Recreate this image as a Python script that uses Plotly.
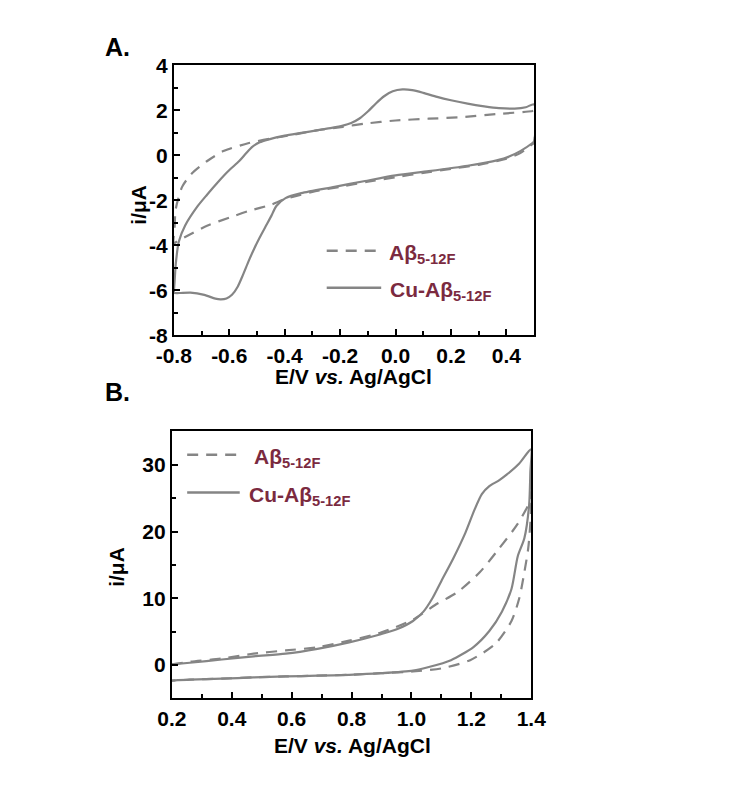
import plotly.graph_objects as go

# ---------------- data ----------------
# Panel A: cyclic voltammograms (E in V vs Ag/AgCl, i in uA)
A_ab_E = [-0.800, -0.797, -0.793, -0.770, -0.736, -0.678, -0.621, -0.529, -0.450, -0.400,
          -0.280, -0.190, -0.110, 0.000, 0.120, 0.240, 0.370, 0.490, 0.500,
          0.500, 0.494, 0.450, 0.400, 0.300, 0.200, 0.100, 0.000, -0.100, -0.200,
          -0.300, -0.400, -0.448, -0.529, -0.598, -0.678, -0.747, -0.785, -0.800]
A_ab_I = [-3.90, -3.20, -2.39, -1.40, -0.82, -0.24, 0.19, 0.55, 0.75, 0.85,
          1.12, 1.27, 1.41, 1.55, 1.63, 1.70, 1.84, 1.96, 1.98,
          0.55, 0.50, 0.10, -0.15, -0.42, -0.60, -0.78, -0.97, -1.17, -1.40,
          -1.62, -1.95, -2.19, -2.47, -2.76, -3.12, -3.55, -3.80, -3.90]

A_cu_E = [-0.800, -0.797, -0.793, -0.782, -0.759, -0.714, -0.680, -0.645, -0.605, -0.563,
          -0.540, -0.517, -0.490, -0.460, -0.400, -0.340, -0.280, -0.230, -0.190, -0.160,
          -0.130, -0.100, -0.070, -0.040, -0.010, 0.025, 0.060, 0.100, 0.150, 0.200,
          0.260, 0.320, 0.373, 0.430, 0.470, 0.500,
          0.500, 0.494, 0.450, 0.400, 0.350, 0.260, 0.120, 0.000, -0.110, -0.220,
          -0.340, -0.397, -0.430, -0.448, -0.466, -0.490, -0.510, -0.530, -0.550, -0.570,
          -0.590, -0.610, -0.630, -0.650, -0.690, -0.740, -0.780, -0.800]
A_cu_I = [-6.10, -5.60, -4.85, -3.84, -3.12, -2.26, -1.75, -1.25, -0.72, -0.24,
          0.08, 0.38, 0.58, 0.70, 0.88, 1.00, 1.12, 1.22, 1.32, 1.44,
          1.64, 1.95, 2.32, 2.64, 2.85, 2.93, 2.90, 2.78, 2.60, 2.45,
          2.30, 2.18, 2.10, 2.08, 2.14, 2.27,
          0.62, 0.55, 0.19, -0.10, -0.27, -0.46, -0.70, -0.89, -1.14, -1.40,
          -1.68, -1.90, -2.25, -2.69, -3.10, -3.65, -4.15, -4.70, -5.30, -5.85,
          -6.20, -6.36, -6.40, -6.37, -6.20, -6.10, -6.12, -6.12]

# Panel B
B_ab_E = [0.200, 0.260, 0.367, 0.473, 0.580, 0.686, 0.792, 0.898, 1.005, 1.079,
          1.153, 1.228, 1.290, 1.354, 1.393, 1.400,
          1.398, 1.390, 1.377, 1.360, 1.334, 1.281, 1.196, 1.100, 1.005, 0.898,
          0.792, 0.686, 0.580, 0.473, 0.367, 0.260, 0.200]
B_ab_I = [0.10, 0.49, 0.97, 1.70, 2.19, 2.67, 3.65, 4.86, 6.80, 9.00,
          10.90, 13.90, 17.30, 21.10, 24.30, 26.00,
          22.00, 17.50, 13.90, 10.00, 6.60, 3.20, 0.73, -0.50, -0.97, -1.22,
          -1.46, -1.60, -1.70, -1.85, -2.04, -2.19, -2.33]

B_cu_E = [0.200, 0.260, 0.367, 0.473, 0.580, 0.686, 0.792, 0.898, 0.951, 1.005,
          1.040, 1.070, 1.100, 1.140, 1.180, 1.210, 1.235, 1.260, 1.290, 1.320,
          1.360, 1.399,
          1.397, 1.393, 1.377, 1.355, 1.334, 1.302, 1.260, 1.207, 1.132, 1.058,
          1.005, 0.898, 0.792, 0.686, 0.580, 0.473, 0.367, 0.260, 0.200]
B_cu_I = [0.10, 0.34, 0.83, 1.31, 1.70, 2.43, 3.40, 4.62, 5.35, 6.60,
          8.00, 10.00, 12.60, 16.00, 19.80, 23.20, 25.60, 26.80, 27.60, 28.60,
          30.20, 32.30,
          28.90, 24.00, 19.00, 16.30, 11.40, 8.00, 5.10, 2.70, 0.73, -0.30,
          -0.83, -1.22, -1.46, -1.60, -1.70, -1.85, -2.04, -2.19, -2.33]

# ticks
A_xtick_vals = [-0.8, -0.6, -0.4, -0.2, 0.0, 0.2, 0.4]
A_xtick_text = ["-0.8", "-0.6", "-0.4", "-0.2", "0.0", "0.2", "0.4"]
A_ytick_vals = [-8, -6, -4, -2, 0, 2, 4]
A_ytick_text = ["-8", "-6", "-4", "-2", "0", "2", "4"]
B_xtick_vals = [0.2, 0.4, 0.6, 0.8, 1.0, 1.2, 1.4]
B_xtick_text = ["0.2", "0.4", "0.6", "0.8", "1.0", "1.2", "1.4"]
B_ytick_vals = [0, 10, 20, 30]
B_ytick_text = ["0", "10", "20", "30"]

legend_names = ["A\u03b2<sub>5-12F</sub>", "Cu-A\u03b2<sub>5-12F</sub>"]
x_title = "E/V <i>vs.</i> Ag/AgCl"
y_title = "i/\u03bcA"

# ---------------- styling ----------------
W, H = 746, 790
LINE = "#858585"
MAROON = "#7B2A3F"
FONT = "Liberation Sans, Arial, sans-serif"
DASH = "11px,8px"


def px(x):
    return x / W


def py(y):
    return 1 - y / H


fig = go.Figure()
line_solid = dict(color=LINE, width=2.2, shape="spline", smoothing=0.7)
line_dash = dict(color=LINE, width=2.2, dash=DASH, shape="spline", smoothing=0.7)
fig.add_trace(go.Scatter(x=A_ab_E, y=A_ab_I, mode="lines", xaxis="x", yaxis="y",
                         line=line_dash, showlegend=False))
fig.add_trace(go.Scatter(x=A_cu_E, y=A_cu_I, mode="lines", xaxis="x", yaxis="y",
                         line=line_solid, showlegend=False))
fig.add_trace(go.Scatter(x=B_ab_E, y=B_ab_I, mode="lines", xaxis="x2", yaxis="y2",
                         line=line_dash, showlegend=False))
fig.add_trace(go.Scatter(x=B_cu_E, y=B_cu_I, mode="lines", xaxis="x2", yaxis="y2",
                         line=line_solid, showlegend=False))

tickfont = dict(family=FONT, size=21, color="black", weight="bold")
axis_common = dict(showline=True, linecolor="black", linewidth=2, mirror=True,
                   ticks="inside", ticklen=6, tickwidth=2, tickcolor="black",
                   showgrid=False, zeroline=False, tickfont=tickfont, tickmode="array")
minor_common = dict(ticks="inside", ticklen=4, tickwidth=2, tickcolor="black", tick0=0)

fig.update_layout(
    width=W, height=H,
    margin=dict(l=0, r=0, t=0, b=0),
    paper_bgcolor="white", plot_bgcolor="white",
    xaxis=dict(domain=[px(163), px(540)], range=[-0.8, 0.5], anchor="y",
               tickvals=A_xtick_vals, ticktext=A_xtick_text,
               minor=dict(dtick=0.1, **minor_common), **axis_common),
    yaxis=dict(domain=[py(333), py(55)], range=[-8, 4], anchor="x",
               tickvals=A_ytick_vals, ticktext=A_ytick_text,
               minor=dict(dtick=1, **minor_common), **axis_common),
    xaxis2=dict(domain=[px(161), px(537)], range=[0.2, 1.4], anchor="y2",
                tickvals=B_xtick_vals, ticktext=B_xtick_text,
                minor=dict(dtick=0.1, **minor_common), **axis_common),
    yaxis2=dict(domain=[py(707), py(432)], range=[-5, 35], anchor="x2",
                tickvals=B_ytick_vals, ticktext=B_ytick_text,
                minor=dict(dtick=5, **minor_common), **axis_common),
)

annotations = []
title_font = dict(family=FONT, size=21, color="black", weight="bold")
letter_font = dict(family=FONT, size=25, color="black", weight="bold")
annotations.append(dict(text="A.", x=px(89), y=py(36), xref="paper", yref="paper",
                        xanchor="left", yanchor="middle", showarrow=False, font=letter_font))
annotations.append(dict(text="B.", x=px(89), y=py(391), xref="paper", yref="paper",
                        xanchor="left", yanchor="middle", showarrow=False, font=letter_font))
annotations.append(dict(text=x_title, x=px(351), y=py(375), xref="paper", yref="paper",
                        xanchor="center", yanchor="middle", showarrow=False, font=title_font))
annotations.append(dict(text=x_title, x=px(350), y=py(756), xref="paper", yref="paper",
                        xanchor="center", yanchor="middle", showarrow=False, font=title_font))
annotations.append(dict(text=y_title, x=px(126), y=py(198), xref="paper", yref="paper",
                        xanchor="center", yanchor="middle", textangle=-90, showarrow=False, font=title_font))
annotations.append(dict(text=y_title, x=px(103), y=py(571), xref="paper", yref="paper",
                        xanchor="center", yanchor="middle", textangle=-90, showarrow=False, font=title_font))

leg_font = dict(family=FONT, size=21, color=MAROON, weight="bold")
shapes = []
legA = [(323, 380, 246, 386, DASH, legend_names[0]), (323, 380, 284, 387, "solid", legend_names[1])]
legB = [(177, 232, 456, 245, DASH, legend_names[0]), (177, 232, 495, 240, "solid", legend_names[1])]
for (x0, x1, yy, tx, dash, name) in legA + legB:
    shapes.append(dict(type="line", xref="paper", yref="paper", x0=px(x0), x1=px(x1),
                       y0=py(yy), y1=py(yy), line=dict(color=LINE, width=2.5, dash=dash)))
    annotations.append(dict(text=name, x=px(tx), y=py(yy - 12), xref="paper", yref="paper",
                            xanchor="left", yanchor="top", showarrow=False, font=leg_font))

fig.update_layout(annotations=annotations, shapes=shapes)
fig.write_html("out.html")
